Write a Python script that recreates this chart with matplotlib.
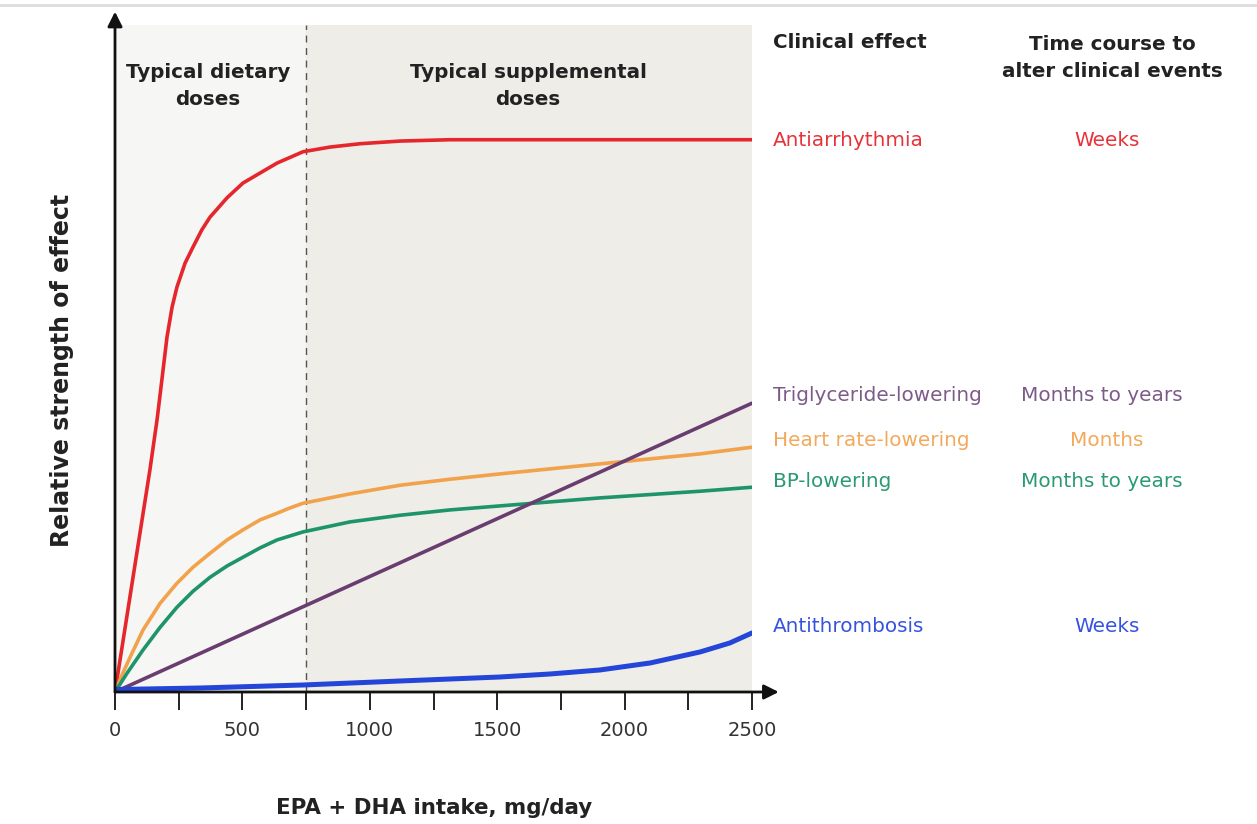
import numpy as np
import matplotlib.pyplot as plt

# doses (mg/day) and relative strength
red_x = [0, 137, 165, 184, 204, 224, 243, 275, 306, 341, 373, 440, 502, 569,
         636, 738, 844, 962, 1119, 1315, 2500]
red_y = [0, 33.3, 40.8, 46.8, 53.2, 57.7, 60.7, 64.3, 66.7, 69.3, 71.2, 74.1,
         76.3, 77.8, 79.3, 81.0, 81.7, 82.2, 82.6, 82.8, 82.8]

orange_x = [0, 27, 59, 110, 177, 243, 306, 373, 440, 502, 569, 636, 687, 738,
            922, 1119, 1315, 1511, 1903, 2296, 2500]
orange_y = [0, 2.5, 5.2, 9.3, 13.3, 16.3, 18.7, 20.8, 22.8, 24.3, 25.8, 26.8,
            27.6, 28.3, 29.7, 31.0, 31.9, 32.7, 34.2, 35.7, 36.7]

green_x = [0, 47, 110, 177, 243, 306, 373, 440, 502, 569, 636, 738, 922, 1119,
           1315, 1511, 1903, 2296, 2500]
green_y = [0, 2.8, 6.3, 9.7, 12.7, 15.1, 17.2, 18.9, 20.2, 21.6, 22.8, 24.0,
           25.5, 26.5, 27.3, 27.9, 29.1, 30.1, 30.7]

purple_x = [0, 2500]
purple_y = [0, 43.3]

blue_x = [0, 334, 738, 1119, 1511, 1707, 1903, 2100, 2296, 2413, 2500]
blue_y = [0.37, 0.6, 1.05, 1.65, 2.25, 2.7, 3.3, 4.35, 6.0, 7.35, 8.85]

effects = ["Antiarrhythmia", "Triglyceride-lowering", "Heart rate-lowering",
           "BP-lowering", "Antithrombosis"]
time_courses = ["Weeks", "Months to years", "Months", "Months to years", "Weeks"]
label_rows = [140, 395, 440, 482, 626]  # pixel rows of the side labels
tc_centres = [1107, 1102, 1107, 1102, 1107]
label_colors = ["#e8323a", "#7d5a88", "#f2a95a", "#2a9a70", "#3553e0"]

W, H = 1257, 824
fig = plt.figure(figsize=(W / 100, H / 100), dpi=100)
plt.rcParams['font.family'] = ['DejaVu Sans']


def fx(px):
    return px / W


def fy(py):
    return 1 - py / H


ax = fig.add_axes([fx(115), fy(692), (752 - 115) / W, (692 - 25) / H])
ax.set_xlim(0, 2500)
ax.set_ylim(0, 100)
ax.axvspan(0, 750, color="#f6f6f4", zorder=0)
ax.axvspan(750, 2500, color="#eeede8", zorder=0)
ax.axvline(750, color="#555555", lw=1, ls=(0, (5, 4)), zorder=1)

line_kw = dict(solid_joinstyle="round", solid_capstyle="round", zorder=3)
ax.plot(red_x, red_y, color="#e5262c", lw=2.6, **line_kw)
ax.plot(orange_x, orange_y, color="#f2a24a", lw=2.6, **line_kw)
ax.plot(green_x, green_y, color="#1e946a", lw=2.6, **line_kw)
ax.plot(purple_x, purple_y, color="#6a3d70", lw=2.6, **line_kw)
ax.plot(blue_x, blue_y, color="#2446d8", lw=3.6, **line_kw)

for s in ax.spines.values():
    s.set_visible(False)
ax.set_yticks([])
ticks = np.arange(0, 2501, 250)
ax.set_xticks(ticks)
ax.set_xticklabels([str(t) if t % 500 == 0 else "" for t in ticks],
                   fontsize=14, color="#333333")
ax.tick_params(axis="x", length=13, width=1.4, color="#222222", pad=8)

# axis arrows
ax.annotate("", xy=(1.042, 0), xytext=(0, 0), xycoords="axes fraction",
            arrowprops=dict(arrowstyle="-|>", color="#111111", lw=2,
                            mutation_scale=22, shrinkA=0, shrinkB=0),
            annotation_clip=False, zorder=5)
ax.annotate("", xy=(0, 1.02), xytext=(0, 0), xycoords="axes fraction",
            arrowprops=dict(arrowstyle="-|>", color="#111111", lw=2,
                            mutation_scale=22, shrinkA=0, shrinkB=0),
            annotation_clip=False, zorder=5)

hdr = dict(fontsize=14.3, fontweight="bold", color="#222222",
           ha="center", va="center", linespacing=1.5)
fig.text(fx(208), fy(86), "Typical dietary\ndoses", **hdr)
fig.text(fx(528), fy(86), "Typical supplemental\ndoses", **hdr)
fig.text(fx(773), fy(42), "Clinical effect", fontsize=14.3, fontweight="bold",
         color="#222222", ha="left", va="center")
fig.text(fx(1112), fy(58), "Time course to\nalter clinical events", **hdr)

for name, tc, row, cx, col in zip(effects, time_courses, label_rows,
                                  tc_centres, label_colors):
    fig.text(fx(773), fy(row), name, fontsize=14.4, color=col,
             ha="left", va="center")
    fig.text(fx(cx), fy(row), tc, fontsize=14.4, color=col,
             ha="center", va="center")

fig.text(fx(434), fy(808), "EPA + DHA intake, mg/day", fontsize=15.4,
         fontweight="bold", color="#222222", ha="center", va="center")
fig.text(fx(62), fy(370), "Relative strength of effect", fontsize=17,
         fontweight="bold", color="#222222", ha="center", va="center",
         rotation=90)

# thin grey rule at the very top of the picture
fig.add_artist(plt.Line2D([0, 1], [fy(5), fy(5)], color="#dddddd", lw=2))

fig.savefig("out.png", dpi=100, facecolor="white")
